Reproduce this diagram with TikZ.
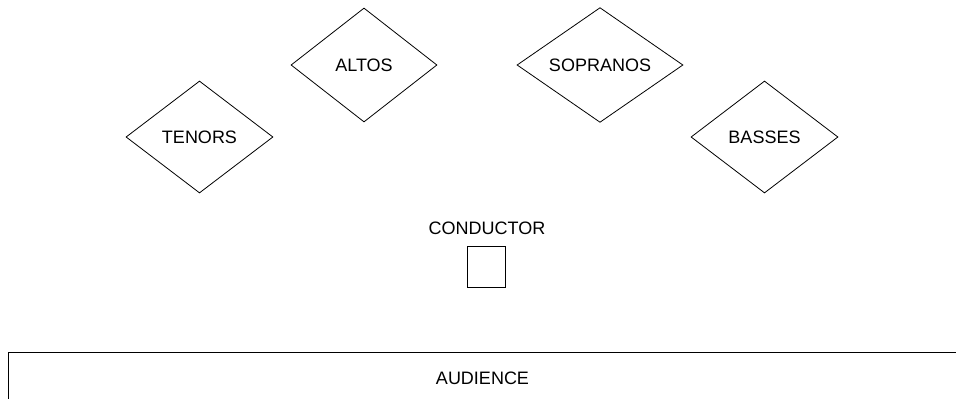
\documentclass[tikz,border=0pt]{standalone}
\usepackage{fontspec}
\setmainfont{Liberation Sans}
\usetikzlibrary{shapes.geometric}
\begin{document}
\begin{tikzpicture}[x=1pt,y=-1pt,
  line width=0.8pt,
  lbl/.style={font=\fontsize{18}{20}\selectfont, inner sep=0pt},
  part/.style={diamond, draw, inner sep=0pt, font=\fontsize{18}{20}\selectfont},
  podium/.style={draw, minimum width=38pt, minimum height=41pt, inner sep=0pt}]
\useasboundingbox (0,0) rectangle (956,399);
\clip (0,0) rectangle (956,399);
\node[part, minimum width=147pt, minimum height=112pt] (tenors) at (199.5,137) {TENORS};
\node[part, minimum width=146pt, minimum height=114pt] (altos) at (364,65) {ALTOS};
\node[part, minimum width=166pt, minimum height=114pt] (sopranos) at (600,65) {SOPRANOS};
\node[part, minimum width=147pt, minimum height=112pt] (basses) at (764.5,137) {BASSES};
\node[lbl] (condlabel) at (487,228) {CONDUCTOR};
\node[podium] (conductor) at (486,266.5) {};
\node[lbl] (audience) at (482.5,378) {AUDIENCE};
\draw (980,352.5) -- (8.5,352.5) -- (8.5,420);
\end{tikzpicture}
\end{document}
